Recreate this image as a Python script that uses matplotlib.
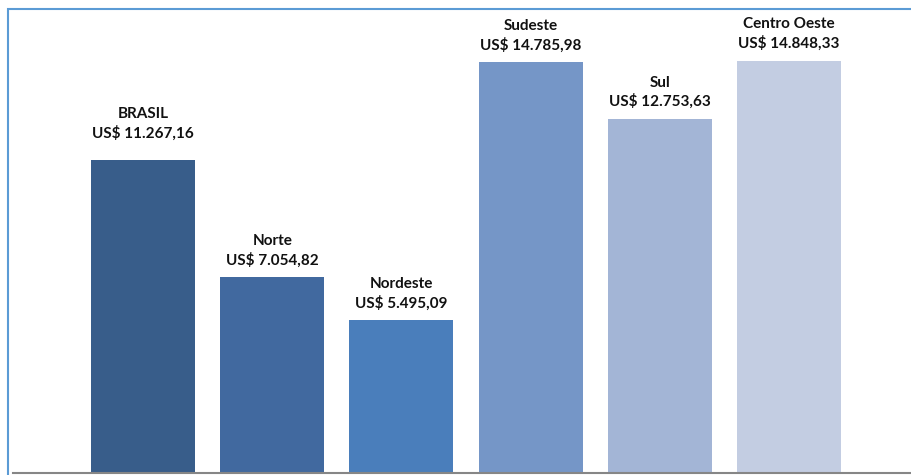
import matplotlib
matplotlib.use("Agg")
import matplotlib.pyplot as plt
from matplotlib.patches import Rectangle

regions = ["BRASIL", "Norte", "Nordeste", "Sudeste", "Sul", "Centro Oeste"]
values = [11267.16, 7054.82, 5495.09, 14785.98, 12753.63, 14848.33]
value_labels = ["US$ 11.267,16", "US$ 7.054,82", "US$ 5.495,09",
                "US$ 14.785,98", "US$ 12.753,63", "US$ 14.848,33"]
colors = ["#385D8A", "#41699F", "#4A7EBB", "#7596C7", "#A3B5D6", "#C3CDE2"]

W, H = 911, 475
fig = plt.figure(figsize=(W / 100, H / 100), dpi=100)

# outer frame (left and top edges visible)
fig.add_artist(Rectangle((8 / W, -0.1), 1.2, (H - 9) / H + 0.1,
                         transform=fig.transFigure, fill=False,
                         edgecolor="#5B9BD5", linewidth=1.5))

ax = fig.add_axes([13 / W, 2 / H, (W - 13) / W, (473 - 9) / H])
x = list(range(len(regions)))
ax.bar(x, values, width=0.805, color=colors, zorder=2)

ax.set_xlim(-1.006, 5.944)
ax.set_ylim(0, 16709)
for s in ["left", "right", "top"]:
    ax.spines[s].set_visible(False)
ax.spines["bottom"].set_color("#868686")
ax.spines["bottom"].set_linewidth(1.5)
ax.set_xticks([])
ax.set_yticks([])
ax.patch.set_alpha(0)

# the national total label sits a little higher above its bar
for xi, v, name, lab in zip(x, values, regions, value_labels):
    dy = 14 if name == "BRASIL" else 7
    ax.annotate(f"{name}\n{lab}", (xi, v), xytext=(0, dy),
                textcoords="offset points", ha="center", va="bottom",
                fontsize=11, fontweight="bold", family="Lato",
                color="#111111", linespacing=1.35)

fig.savefig("out.png", dpi=100, facecolor="white")
